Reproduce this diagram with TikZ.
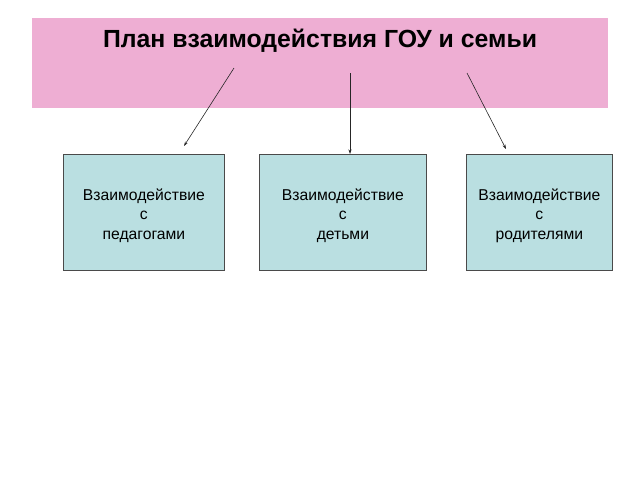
\documentclass[tikz,border=0pt]{standalone}
\usepackage{fontspec}
\setmainfont{Liberation Sans}
\usetikzlibrary{arrows.meta}
\definecolor{pinkbg}{HTML}{EEAED3}
\definecolor{boxfill}{HTML}{BADFE1}
\definecolor{boxline}{HTML}{4A4A4A}
\tikzset{
  act/.style={draw=boxline, line width=0.8pt, fill=boxfill, inner sep=0pt, anchor=north west, minimum height=116pt},
  acttext/.style={align=center, font=\fontsize{15.7}{19.5}\selectfont, inner sep=0pt},
  conn/.style={draw=black!85, line width=0.6pt, -{Stealth[length=4.5pt,width=3pt]}}
}
\begin{document}
\begin{tikzpicture}[x=1pt,y=-1pt]
\useasboundingbox (0,0) rectangle (640,480);
\node[fill=pinkbg, minimum width=576pt, minimum height=90pt, anchor=north west, inner sep=0pt] (hdr) at (32,18) {};
\node[font=\fontsize{24.8}{28}\bfseries\selectfont] (title) at (320,41) {План взаимодействия ГОУ и семьи};
\node[act, minimum width=161pt] (b1) at (63,154) {};
\node[act, minimum width=167pt] (b2) at (259,154) {};
\node[act, minimum width=146pt] (b3) at (466,154) {};
\node[acttext] (t1) at ([yshift=-3pt]b1.center) {Взаимодействие\\с\\педагогами};
\node[acttext] (t2) at ([yshift=-3pt]b2.center) {Взаимодействие\\с\\детьми};
\node[acttext] (t3) at ([yshift=-3pt]b3.center) {Взаимодействие\\с\\родителями};
\coordinate (s1) at (234,68);
\coordinate (s2) at (350,73);
\coordinate (s3) at (467,73);
\coordinate (e1) at (184,146);
\coordinate (e3) at (506,149);
\draw[conn] (s1) -- (e1);
\draw[conn] (s2) -- (s2 |- b2.north);
\draw[conn] (s3) -- (e3);
\end{tikzpicture}
\end{document}
